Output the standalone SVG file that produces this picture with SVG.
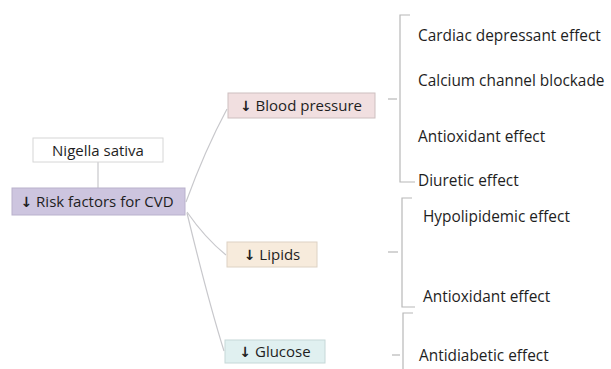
<svg xmlns="http://www.w3.org/2000/svg" width="611" height="369" viewBox="0 0 611 369">
<style>
.t{font-family:"Open Sans","Liberation Sans",sans-serif;fill:#1e1e1e}
.n{font-size:15px}
.e{font-size:15.4px}
.a{font-family:"DejaVu Sans",sans-serif;font-weight:bold;font-size:14px}
.c{fill:none;stroke:#c8c8cc;stroke-width:1.2}
.b{fill:none;stroke:#b8b8b8;stroke-width:1.2}
</style>
<rect width="611" height="369" fill="#ffffff"/>
<g id="connectors">
<line class="c" x1="98" y1="162" x2="98" y2="188"/>
<path class="c" d="M186,202 Q205,150 227,109"/>
<path class="c" d="M187,212 Q205,238 226,255"/>
<path class="c" d="M187,213 Q208,300 224,351"/>
</g>
<g id="nigella">
<rect x="33" y="138" width="130" height="24" fill="#ffffff" stroke="#d6d6d6"/>
<text class="t n" x="98" y="155.5" text-anchor="middle">Nigella sativa</text>
</g>
<g id="risk">
<rect x="12" y="188" width="173" height="27" fill="#cdc5df" stroke="#b9b1cc"/>
<text class="t n" x="97" y="207" text-anchor="middle"><tspan class="a">↓</tspan> Risk factors for CVD</text>
</g>
<g id="bp">
<rect x="228" y="93" width="147" height="25" fill="#f1dfe0" stroke="#cdbfc0"/>
<text class="t n" x="301" y="111" text-anchor="middle"><tspan class="a">↓</tspan> Blood pressure</text>
</g>
<g id="lipids">
<rect x="227" y="242" width="90" height="25" fill="#f7ebdc" stroke="#ddd2c4"/>
<text class="t n" x="272" y="260" text-anchor="middle"><tspan class="a">↓</tspan> Lipids</text>
</g>
<g id="glucose">
<rect x="225" y="340" width="100" height="23" fill="#e0f0f0" stroke="#c6d8d8"/>
<text class="t n" x="275" y="357" text-anchor="middle"><tspan class="a">↓</tspan> Glucose</text>
</g>
<g id="bp-bracket">
<path class="b" d="M410,15 H400 V182 H415"/>
<line class="b" x1="388" y1="99" x2="397" y2="99"/>
</g>
<g id="lipids-bracket">
<path class="b" d="M412,198 H402 V307 H415"/>
<line class="b" x1="388" y1="252" x2="398" y2="252"/>
</g>
<g id="glucose-bracket">
<path class="b" d="M413,313 H403 V369"/>
<line class="b" x1="392" y1="355" x2="400" y2="355"/>
</g>
<g id="effects">
<text class="t e" x="418" y="41">Cardiac depressant effect</text>
<text class="t e" x="418" y="86">Calcium channel blockade</text>
<text class="t e" x="418" y="142">Antioxidant effect</text>
<text class="t e" x="418" y="186">Diuretic effect</text>
<text class="t e" x="423" y="222">Hypolipidemic effect</text>
<text class="t e" x="423" y="302">Antioxidant effect</text>
<text class="t e" x="419" y="361">Antidiabetic effect</text>
</g>
</svg>
